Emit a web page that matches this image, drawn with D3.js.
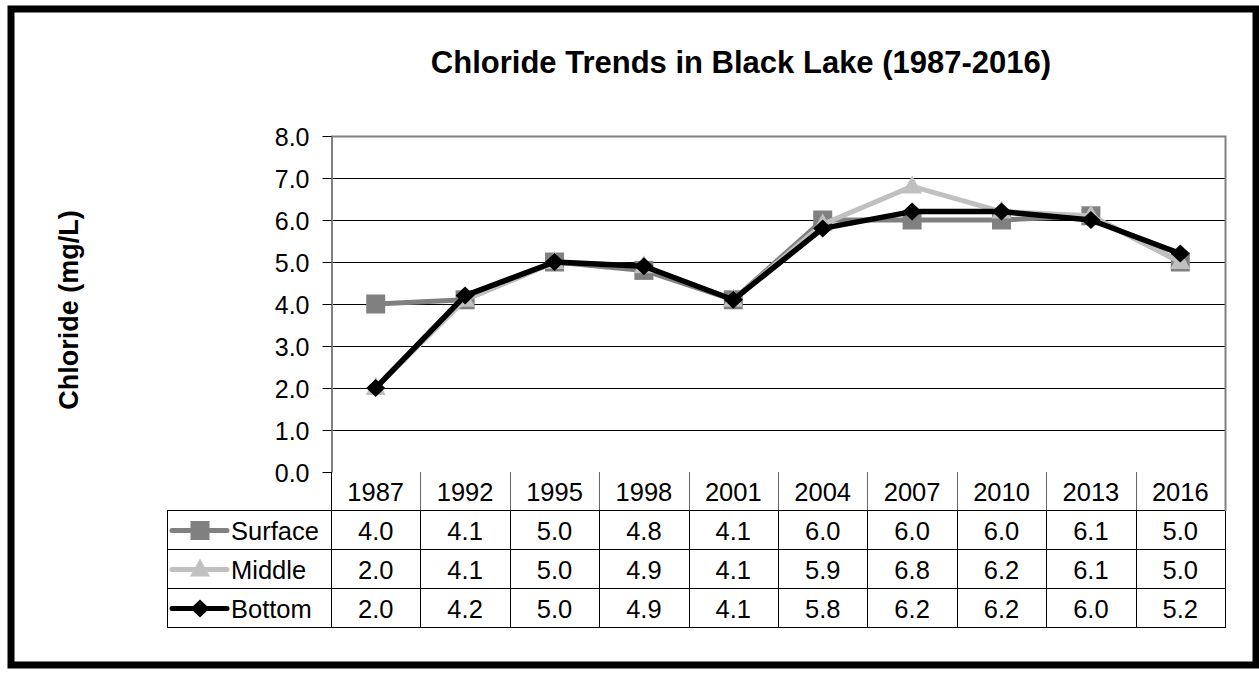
<!DOCTYPE html>
<html>
<head>
    <title>Chloride Trends in Black Lake</title>
    <script src="https://d3js.org/d3.v7.min.js"></script>
    <style>
        body { margin: 0; background: #fff; }
        text { font-family: "Liberation Sans", Arial, sans-serif; fill: #000; }
        .title { font-size: 31px; font-weight: bold; }
        .axis-title { font-size: 27px; font-weight: bold; }
        .cell { font-size: 25.5px; }
    </style>
</head>
<body>
    <div id="chart"></div>
    <script>
        // Data
        const years = ["1987", "1992", "1995", "1998", "2001", "2004", "2007", "2010", "2013", "2016"];
        const surface = [4.0, 4.1, 5.0, 4.8, 4.1, 6.0, 6.0, 6.0, 6.1, 5.0];
        const middle = [2.0, 4.1, 5.0, 4.9, 4.1, 5.9, 6.8, 6.2, 6.1, 5.0];
        const bottom = [2.0, 4.2, 5.0, 4.9, 4.1, 5.8, 6.2, 6.2, 6.0, 5.2];
        const yTicks = [0, 1, 2, 3, 4, 5, 6, 7, 8];

        const series = [
            {name: "Surface", values: surface, color: "#808080", marker: "square", width: 5},
            {name: "Middle", values: middle, color: "#c0c0c0", marker: "triangle", width: 5},
            {name: "Bottom", values: bottom, color: "#000000", marker: "diamond", width: 5.5}
        ];

        const W = 1259, H = 673;
        const plot = {left: 331, right: 1225, top: 136, bottom: 472};
        const tableLeft = 167;
        const rowH = 39;

        const svg = d3.select("#chart")
            .append("svg")
            .attr("width", W)
            .attr("height", H);

        // Outer frame
        svg.append("rect")
            .attr("x", 11).attr("y", 9)
            .attr("width", 1245).attr("height", 656)
            .attr("fill", "none")
            .attr("stroke", "#000")
            .attr("stroke-width", 7);

        const x = d3.scaleBand().domain(years).range([plot.left, plot.right]);
        const y = d3.scaleLinear().domain([0, 8]).range([plot.bottom, plot.top]);

        // Title
        svg.append("text")
            .attr("class", "title")
            .attr("x", 741).attr("y", 73)
            .attr("text-anchor", "middle")
            .text("Chloride Trends in Black Lake (1987-2016)");

        // Y axis title
        svg.append("text")
            .attr("class", "axis-title")
            .attr("transform", "translate(78,310) rotate(-90)")
            .attr("text-anchor", "middle")
            .text("Chloride (mg/L)");

        // Gridlines
        svg.append("g")
            .selectAll("line")
            .data(yTicks.slice(1, -1))
            .join("line")
            .attr("x1", plot.left).attr("x2", plot.right)
            .attr("y1", d => Math.round(y(d)) + 0.5)
            .attr("y2", d => Math.round(y(d)) + 0.5)
            .attr("stroke", "#000")
            .attr("stroke-width", 1);

        // Plot area border (top and right)
        svg.append("path")
            .attr("d", `M${plot.left},${plot.top + 0.5}H${plot.right + 0.5}V${plot.bottom}`)
            .attr("fill", "none")
            .attr("stroke", "#808080")
            .attr("stroke-width", 2);

        // Y axis
        const yAxis = svg.append("g")
            .attr("transform", `translate(${plot.left + 0.5},0)`)
            .call(d3.axisLeft(y).tickValues(yTicks).tickSize(9).tickSizeOuter(0).tickFormat(d3.format(".1f")));
        yAxis.select(".domain").attr("stroke", "#808080").attr("stroke-width", 2);
        yAxis.selectAll(".tick line").attr("stroke", "#000");
        yAxis.selectAll(".tick text")
            .attr("x", -22)
            .attr("dy", "0.36em")
            .style("font-size", "25px")
            .style("font-family", "Liberation Sans, Arial, sans-serif");

        // Markers
        const markerPath = {
            square: "M-9.5,-9.5H9.5V9.5H-9.5Z",
            triangle: "M0,-11L10,7H-10Z",
            diamond: "M0,-9L9.5,0L0,9L-9.5,0Z"
        };

        const line = d3.line()
            .x((d, i) => x(years[i]) + x.bandwidth() / 2)
            .y(d => y(d));

        series.forEach(s => {
            const g = svg.append("g");
            g.append("path")
                .datum(s.values)
                .attr("d", line)
                .attr("fill", "none")
                .attr("stroke", s.color)
                .attr("stroke-width", s.width)
                .attr("stroke-linejoin", "round");
            g.selectAll("path.marker")
                .data(s.values)
                .join("path")
                .attr("class", "marker")
                .attr("transform", (d, i) => `translate(${x(years[i]) + x.bandwidth() / 2},${y(d)})`)
                .attr("d", markerPath[s.marker])
                .attr("fill", s.color);
        });

        // Data table
        const table = svg.append("g");
        const rowY = i => plot.bottom + rowH * (i + 1);

        // Header row (years)
        table.selectAll("text.year")
            .data(years)
            .join("text")
            .attr("class", "cell year")
            .attr("x", d => x(d) + x.bandwidth() / 2)
            .attr("y", plot.bottom + rowH / 2 + 9)
            .attr("text-anchor", "middle")
            .text(d => d);

        table.selectAll("line.hsep")
            .data(years.slice(1))
            .join("line")
            .attr("class", "hsep")
            .attr("x1", d => Math.round(x(d)) + 0.5).attr("x2", d => Math.round(x(d)) + 0.5)
            .attr("y1", plot.bottom).attr("y2", rowY(0))
            .attr("stroke", "#666");

        // Row lines
        table.selectAll("line.hrow")
            .data([0, 1, 2, 3])
            .join("line")
            .attr("class", "hrow")
            .attr("x1", tableLeft).attr("x2", plot.right + 1)
            .attr("y1", d => rowY(d) - 0.5)
            .attr("y2", d => rowY(d) - 0.5)
            .attr("stroke", "#000");

        // Vertical lines in data rows
        const vlines = [tableLeft, plot.left].concat(years.slice(1).map(d => x(d))).concat([plot.right]);
        table.selectAll("line.vrow")
            .data(vlines)
            .join("line")
            .attr("class", "vrow")
            .attr("x1", d => Math.round(d) + 0.5).attr("x2", d => Math.round(d) + 0.5)
            .attr("y1", d => d === plot.left ? plot.bottom : rowY(0))
            .attr("y2", rowY(3))
            .attr("stroke", "#000");

        // Header right border continues grey
        table.append("line")
            .attr("x1", plot.right + 0.5).attr("x2", plot.right + 0.5)
            .attr("y1", plot.bottom).attr("y2", rowY(0))
            .attr("stroke", "#808080")
            .attr("stroke-width", 2);

        // Values and legend keys
        series.forEach((s, r) => {
            const cy = rowY(r) + rowH / 2;
            table.selectAll(null)
                .data(s.values)
                .join("text")
                .attr("class", "cell")
                .attr("x", (d, i) => x(years[i]) + x.bandwidth() / 2)
                .attr("y", cy + 9)
                .attr("text-anchor", "middle")
                .text(d => d.toFixed(1));

            table.append("line")
                .attr("x1", 172).attr("x2", 227)
                .attr("y1", cy).attr("y2", cy)
                .attr("stroke", s.color)
                .attr("stroke-width", 5)
                .attr("stroke-linecap", "round");
            table.append("path")
                .attr("transform", `translate(200,${cy})`)
                .attr("d", markerPath[s.marker])
                .attr("fill", s.color);
            table.append("text")
                .attr("class", "cell")
                .attr("x", 231)
                .attr("y", cy + 9)
                .text(s.name);
        });
    </script>
</body>
</html>
